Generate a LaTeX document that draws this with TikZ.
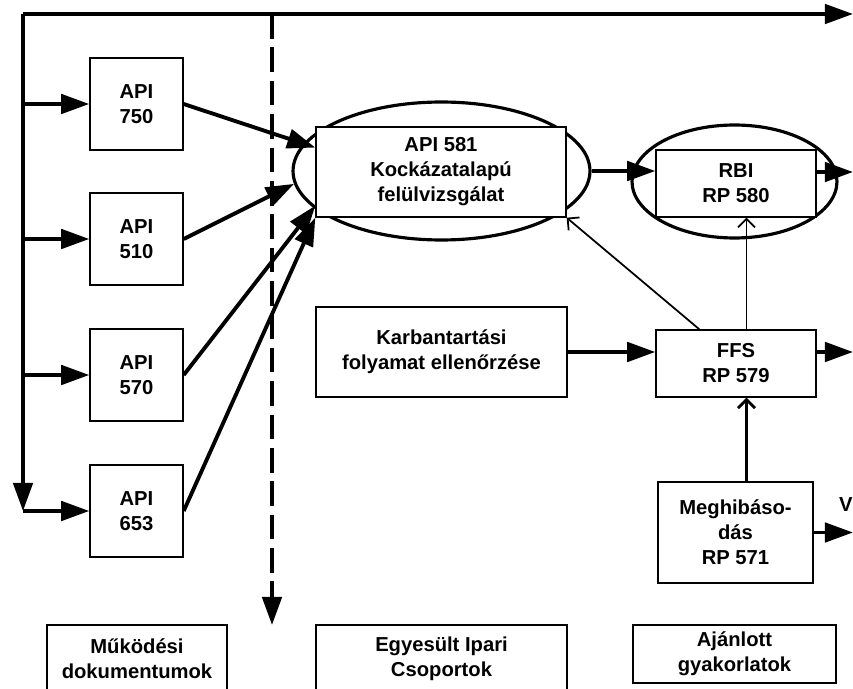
\documentclass[tikz,border=0pt]{standalone}
\usepackage{fontspec}
\setmainfont{Liberation Sans}
\usetikzlibrary{shapes, arrows.meta, positioning}

\begin{document}
\begin{tikzpicture}
[
x=0.02cm, y=-0.02cm,
inner sep=0pt,
box/.style={rectangle, draw=black, line width=0.8pt, fill=white, align=center,
  font=\fontsize{11.5}{14.2}\bfseries\selectfont},
oval/.style={ellipse, draw=black, line width=1.8pt, fill=white},
heavy/.style={-{Triangle[length=16pt, width=11pt]}, black, line width=2.2pt},
thin/.style={-{Straight Barb[length=4.8pt, width=9.6pt]}, black, line width=1pt},
]
\useasboundingbox (0,0) rectangle (853,689);
\clip (0,0) rectangle (853,689);

% ovals first, boxes on top
\node [oval, minimum width=5.94cm, minimum height=2.76cm] (kockoval) at (441.5,171) {};
\node [oval, minimum width=4.1cm, minimum height=2.26cm] (rbioval) at (734.5,181.5) {};

\node [box, minimum width=1.86cm, minimum height=1.84cm] (api750) at (136.5,104) {API\\750};
\node [box, minimum width=1.86cm, minimum height=1.84cm] (api510) at (136.5,239) {API\\510};
\node [box, minimum width=1.86cm, minimum height=1.84cm] (api570) at (136.5,375) {API\\570};
\node [box, minimum width=1.86cm, minimum height=1.84cm] (api653) at (136.5,511) {API\\653};

\node [box, minimum width=5.0cm, minimum height=1.8cm] (kock) at (441,172) {API 581\\Kockázatalapú\\felülvizsgálat};
\node [box, minimum width=3.2cm, minimum height=1.34cm] (rbi) at (736,183.5) {RBI\\RP 580};
\node [box, minimum width=5.02cm, minimum height=1.8cm] (karb) at (441.5,352) {Karbantartási\\folyamat ellenőrzése};
\node [box, minimum width=3.2cm, minimum height=1.34cm] (ffs) at (736,363.5) {FFS\\RP 579};
\node [box, minimum width=3.1cm, minimum height=2.02cm] (megh) at (735.5,532.5) {Meghibáso-\\dás\\RP 571};

\node [box, minimum width=3.6cm, minimum height=1.34cm] (mukodesi) at (137,658.5) {Működési\\dokumentumok};
\node [box, minimum width=5.02cm, minimum height=1.34cm] (egyesult) at (441.5,658.5) {Egyesült Ipari\\Csoportok};
\node [box, minimum width=4.06cm, minimum height=1.16cm] (ajanlott) at (734.5,654) {Ajánlott\\gyakorlatok};

\node [anchor=base east, font=\fontsize{11.5}{14.2}\bfseries\selectfont] (vfrag) at (853,512) {V};

\coordinate (topleft) at (23,14);
\coordinate (edge) at (853,14);
\coordinate (dashtop) at (272,14);
\coordinate (dashend) at (272,625);

% frame lines
\draw [heavy] (topleft) -- (edge);
\draw [heavy] (topleft) -- (topleft |- api653.west);
\draw [heavy] (topleft |- api653.west) -- (api653.west);
\foreach \n in {750,510,570}
  \draw [heavy] (topleft |- api\n.west) -- (api\n.west);
\draw [heavy, dash pattern=on 14pt off 5pt] (dashtop) -- (dashend);

% into API 581
\draw [heavy] (api750.east) -- (kock.169);
\draw [heavy] (api510.east) -- (kockoval.185);
\draw [heavy] (api570.east) -- (kock.195);
\draw [heavy] (api653.east) -- (kock.south west);

\draw [heavy] (kockoval.east) -- (kockoval.east -| rbi.west);
\draw [heavy] (rbi.east |- kock.east) -- (edge |- kock.east);
\draw [heavy] (karb.east) -- (karb.east -| ffs.west);
\draw [heavy] (ffs.east |- karb.east) -- (edge |- karb.east);
\draw [heavy] (megh.east) -- (megh.east -| edge);

\draw [thin] (ffs.137) -- (kock.south east);
\draw [thin] (ffs.73) -- (ffs.73 |- rbi.south);
\draw [thin, line width=1.6pt] (ffs.73 |- megh.north) -- (ffs.73 |- ffs.south);
\end{tikzpicture}
\end{document}
